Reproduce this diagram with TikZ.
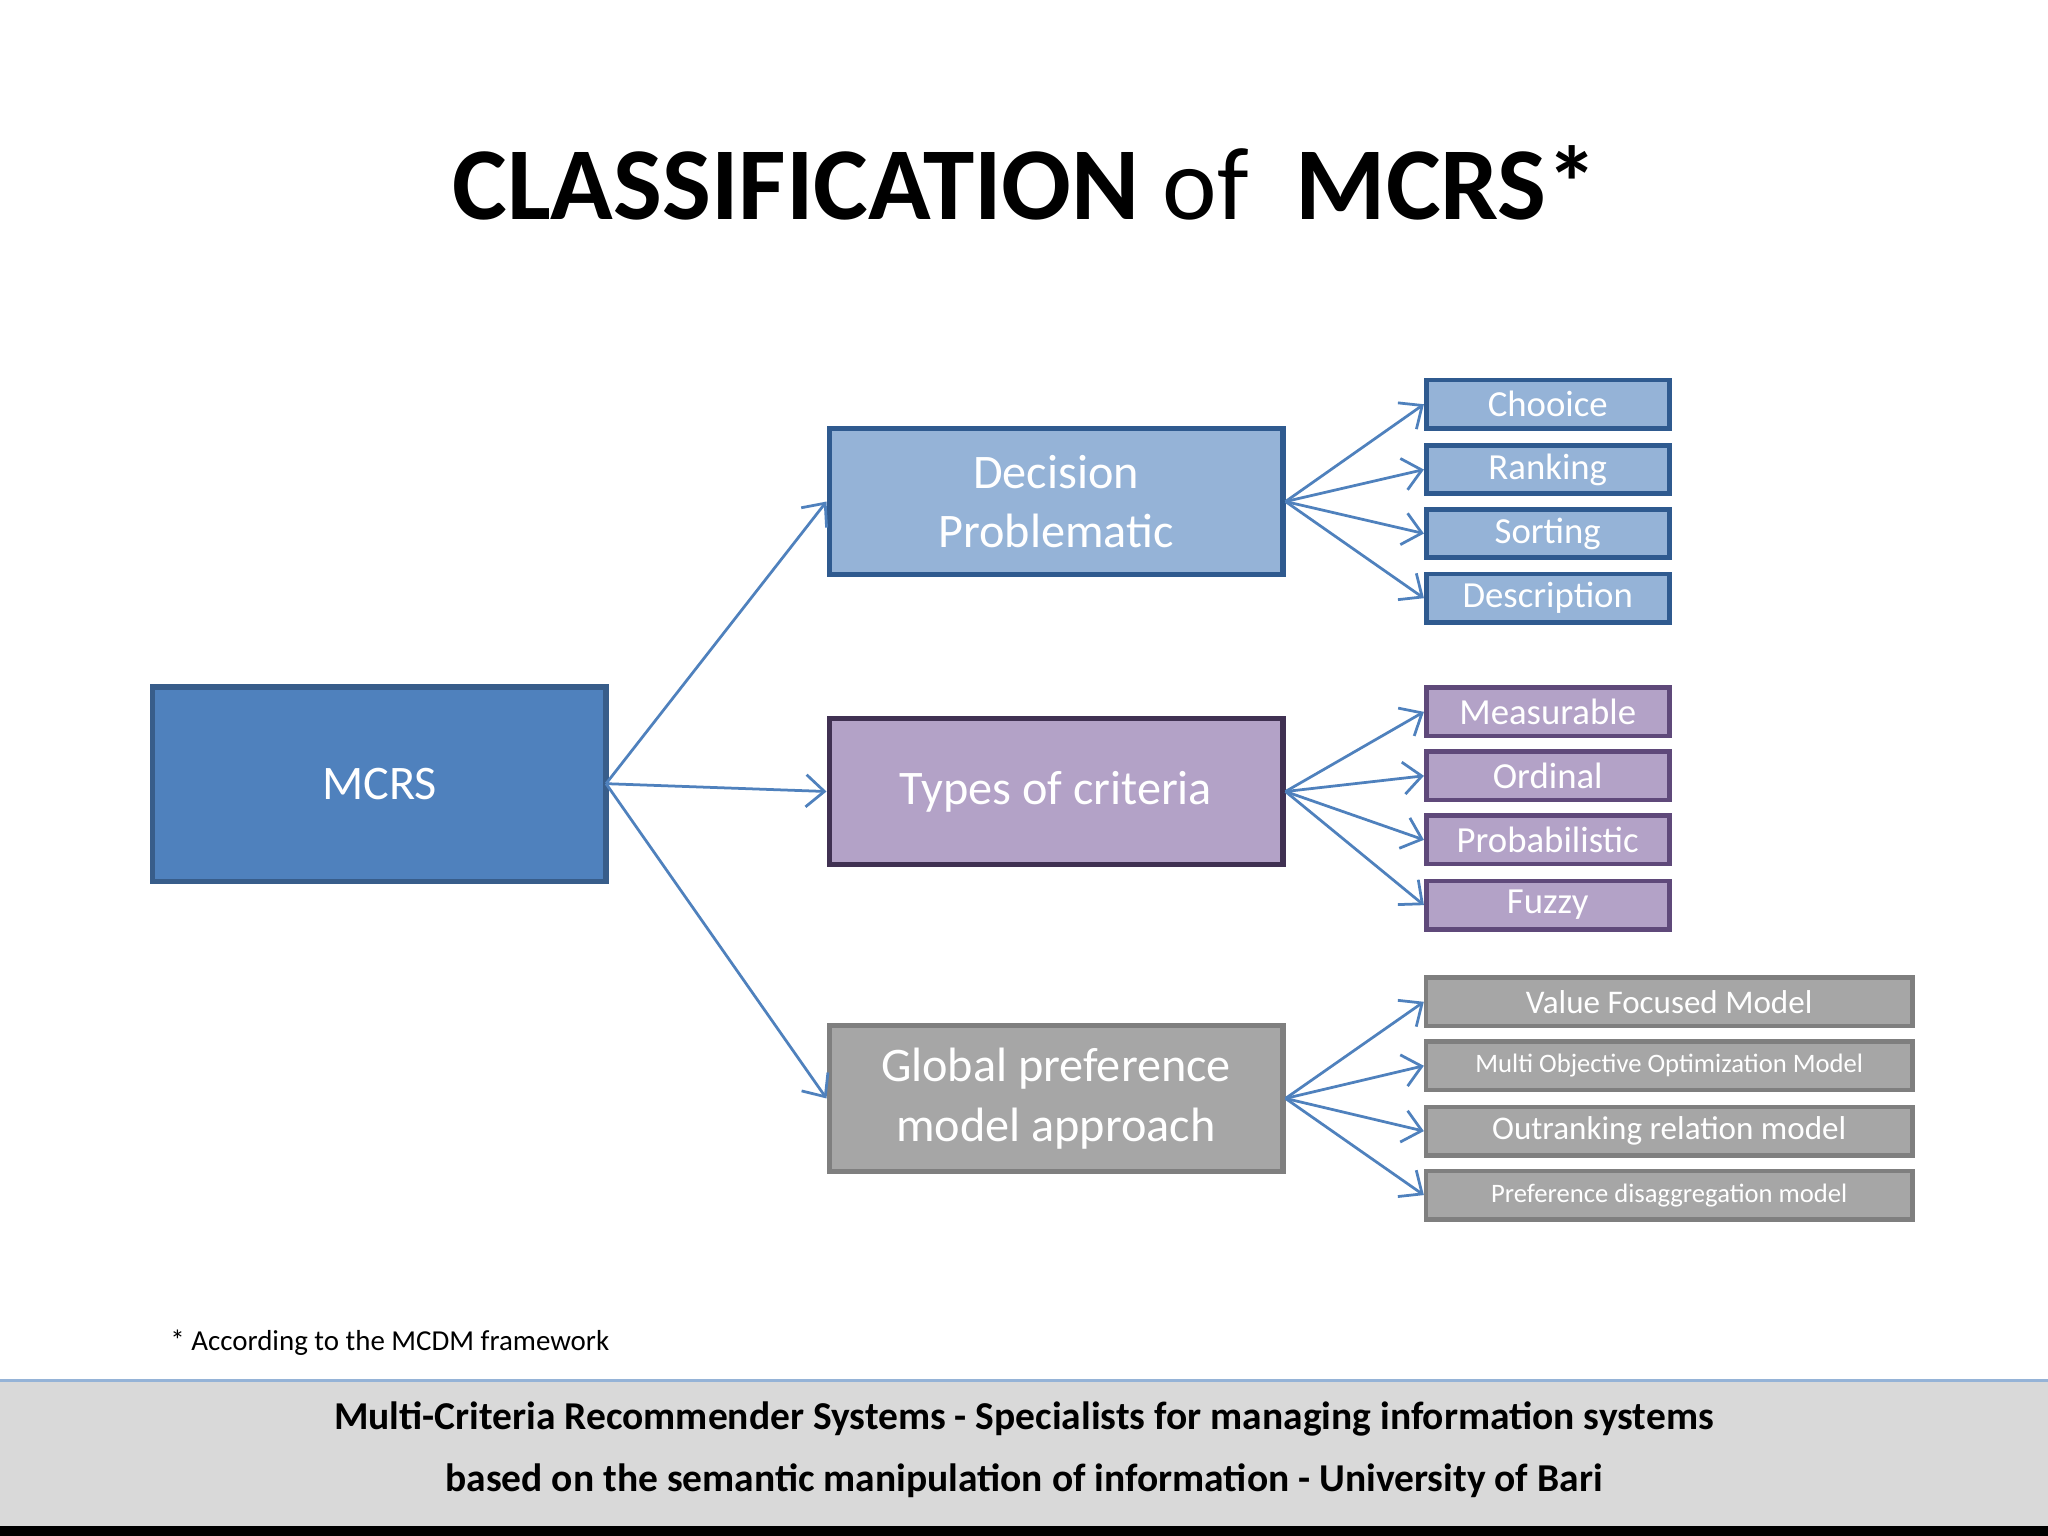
\documentclass[tikz,border=0pt]{standalone}
\usepackage{fontspec}
\setmainfont{Carlito}
\usetikzlibrary{arrows.meta}
\definecolor{mc}{HTML}{4F81BD}\definecolor{mcb}{HTML}{385D8A}
\definecolor{bl}{HTML}{95B3D7}\definecolor{blb}{HTML}{2F5A8F}
\definecolor{pu}{HTML}{B3A2C7}\definecolor{pub}{HTML}{403152}\definecolor{pub2}{HTML}{5F497A}
\definecolor{gr}{HTML}{A6A6A6}\definecolor{grb}{HTML}{7F7F7F}
\definecolor{ft}{HTML}{D9D9D9}
\begin{document}
\begin{tikzpicture}[x=0.01cm,y=-0.01cm,
 box/.style={draw,line width=1.2pt,text=white,inner sep=0,align=center},
 big/.style={box,minimum width=3.47cm,minimum height=1.12cm,font=\fontsize{10.5}{13}\selectfont},
 sm/.style={box,line width=1pt,minimum width=1.86cm,minimum height=0.37cm,font=\fontsize{8}{9}\selectfont},
 gs/.style={box,line width=1pt,fill=gr,draw=grb,minimum width=3.72cm,minimum height=0.37cm},
 ar/.style={draw=mc,line width=0.6pt,-{Straight Barb[length=4pt,width=7pt]}}]
\useasboundingbox (0,0) rectangle (1568,1176);
\fill[white] (0,0) rectangle (1568,1176);
\node[font=\fontsize{22.5}{26}\selectfont] (title) at (785,140) {\textbf{CLASSIFICATION} of \ \textbf{MCRS*}};
\node[box,fill=mc,draw=mcb,minimum width=3.47cm,minimum height=1.49cm,font=\fontsize{10.5}{13}\selectfont] (m) at (290.5,600.5) {MCRS};
\node[big,fill=bl,draw=blb] (d) at (808.5,384) {Decision\\Problematic};
\node[big,fill=pu,draw=pub] (t) at (808.5,606) {Types of criteria};
\node[big,fill=gr,draw=grb] (g) at (808.5,841) {Global preference\\model approach};
\foreach \n/\y/\s in {d1/309.5/Chooice,d2/359.5/Ranking,d3/408.5/Sorting,d4/458/Description}
 \node[sm,fill=bl,draw=blb] (\n) at (1185,\y) {\s};
\foreach \n/\y/\s in {t1/545/Measurable,t2/594/Ordinal,t3/643/Probabilistic,t4/693/Fuzzy}
 \node[sm,fill=pu,draw=pub2] (\n) at (1185,\y) {\s};
\node[gs,font=\fontsize{7.2}{9}\selectfont] (g1) at (1278,767) {Value Focused Model};
\node[gs,font=\fontsize{5.8}{7}\selectfont] (g2) at (1278,816) {Multi Objective Optimization Model};
\node[gs,font=\fontsize{7.2}{9}\selectfont] (g3) at (1278,866) {Outranking relation model};
\node[gs,font=\fontsize{5.8}{7}\selectfont] (g4) at (1278,915) {Preference disaggregation model};
\coordinate (ms) at (464,600);
\draw[ar] (ms) -- (d.west); \draw[ar] (ms) -- (t.west); \draw[ar] (ms) -- (g.west);
\foreach \a in {d1,d2,d3,d4} \draw[ar] (d.east) -- (\a.west);
\foreach \a in {t1,t2,t3,t4} \draw[ar] (t.east) -- (\a.west);
\foreach \a in {g1,g2,g3,g4} \draw[ar] (g.east) -- (\a.west);
\node[anchor=west,font=\fontsize{6.3}{8}\selectfont] (fn) at (118,1028) {* According to the MCDM framework};
\fill[ft] (0,1057) rectangle (1568,1168);
\draw[color=bl,line width=0.6pt] (0,1057) -- (1568,1057);
\fill[black] (0,1168) rectangle (1568,1176);
\node[align=center,font=\bfseries\fontsize{8.6}{13.4}\selectfont] (foot) at (784,1110) {Multi-Criteria Recommender Systems - Specialists for managing information systems\\based on the semantic manipulation of information - University of Bari};
\end{tikzpicture}
\end{document}
